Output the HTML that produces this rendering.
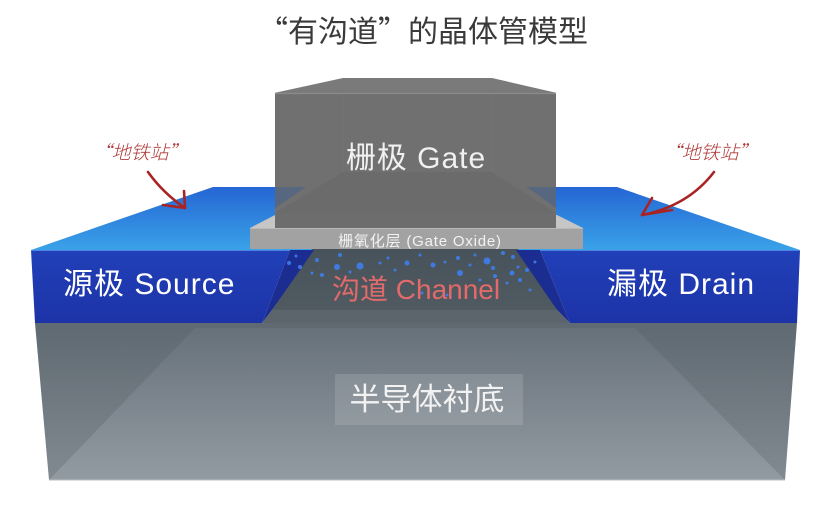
<!DOCTYPE html>
<html><head><meta charset="utf-8"><style>
html,body{margin:0;padding:0;background:#fff;}
svg{display:block;}
</style></head><body>
<svg width="824" height="512" viewBox="0 0 824 512" xmlns="http://www.w3.org/2000/svg">
<defs>
<linearGradient id="blueTop" x1="0" y1="187" x2="0" y2="250" gradientUnits="userSpaceOnUse">
<stop offset="0" stop-color="#2566d4"/><stop offset="1" stop-color="#3aa2e8"/>
</linearGradient>
<linearGradient id="subOuter" x1="0" y1="323" x2="0" y2="480" gradientUnits="userSpaceOnUse">
<stop offset="0" stop-color="#5f6971"/><stop offset="1" stop-color="#818a91"/>
</linearGradient>
<linearGradient id="subInner" x1="0" y1="328" x2="0" y2="480" gradientUnits="userSpaceOnUse">
<stop offset="0" stop-color="#67717a"/><stop offset="1" stop-color="#939ba2"/>
</linearGradient>
<linearGradient id="chan" x1="0" y1="249" x2="0" y2="310" gradientUnits="userSpaceOnUse">
<stop offset="0" stop-color="#48525a"/><stop offset="1" stop-color="#505a61"/>
</linearGradient>
<linearGradient id="srcFront" x1="0" y1="250" x2="0" y2="323" gradientUnits="userSpaceOnUse">
<stop offset="0" stop-color="#2140b8"/><stop offset="1" stop-color="#1d33a8"/>
</linearGradient>
</defs>

<!-- Title -->
<text x="423" y="42" text-anchor="middle" font-family="'Noto Sans CJK SC', sans-serif" font-size="30" fill="#3a3a3a">“有沟道”的晶体管模型</text>

<!-- blue top surface -->
<polygon points="31,250 213,187 617,187 800,250" fill="url(#blueTop)"/>

<!-- substrate -->
<polygon points="35,323 797,323 785,480 49,480" fill="url(#subOuter)"/>
<polygon points="195,328 635,328 785,480 49,480" fill="url(#subInner)"/>
<line x1="49" y1="480" x2="785" y2="480" stroke="#b9bfc4" stroke-width="1"/>

<!-- channel region -->
<polygon points="262,323 272,310 557,310 570,323" fill="#5c656c"/>
<polygon points="312,249 518,249 557,310 272,310" fill="url(#chan)"/>

<!-- source / drain fronts -->
<polygon points="31,250 290,250 262,323 35,323" fill="url(#srcFront)"/>
<polygon points="290,250 314,250 272,310 262,323" fill="#1b2d90"/>
<polygon points="540,250 800,250 797,323 570,323" fill="url(#srcFront)"/>
<polygon points="516,250 540,250 570,323 557,310" fill="#1b2d90"/>
<line x1="31" y1="250.5" x2="290" y2="250.5" stroke="#4d82e2" stroke-width="1"/>
<line x1="540" y1="250.5" x2="800" y2="250.5" stroke="#4d82e2" stroke-width="1"/>

<!-- electrons -->
<g fill="#3d7fee" opacity="0.9">
<circle cx="289" cy="263" r="2"/><circle cx="300" cy="267" r="2"/><circle cx="317" cy="260" r="2"/>
<circle cx="337" cy="267" r="3"/><circle cx="340" cy="255" r="2"/><circle cx="360" cy="266" r="3.5"/>
<circle cx="380" cy="263" r="1.5"/><circle cx="388" cy="258" r="1.5"/><circle cx="407" cy="263" r="2.5"/>
<circle cx="433" cy="265" r="2.5"/><circle cx="460" cy="273" r="3"/><circle cx="458" cy="258" r="2"/>
<circle cx="470" cy="265" r="1.5"/><circle cx="487" cy="261" r="3.5"/><circle cx="493" cy="268" r="2"/>
<circle cx="503" cy="253" r="2"/><circle cx="513" cy="257" r="2"/><circle cx="512" cy="273" r="2.5"/>
<circle cx="520" cy="280" r="2"/><circle cx="527" cy="270" r="2"/><circle cx="530" cy="290" r="1.5"/>
<circle cx="322" cy="275" r="2"/><circle cx="312" cy="273" r="1.5"/><circle cx="422" cy="293" r="1.5"/>
<circle cx="447" cy="295" r="1.5"/><circle cx="480" cy="280" r="1.5"/><circle cx="507" cy="283" r="1.5"/>
<circle cx="495" cy="276" r="2"/><circle cx="518" cy="267" r="1.5"/><circle cx="535" cy="262" r="1.5"/>
<circle cx="350" cy="272" r="1.5"/><circle cx="395" cy="270" r="1.5"/><circle cx="420" cy="255" r="1.5"/>
<circle cx="445" cy="262" r="1.5"/><circle cx="475" cy="255" r="1.5"/><circle cx="296" cy="256" r="1.5"/>
</g>

<!-- oxide -->
<polygon points="250,228 275,215 557,215 583,228" fill="#c6c6c6"/>
<rect x="250" y="228" width="333" height="21" fill="#a2a2a2"/>
<line x1="250" y1="228.5" x2="583" y2="228.5" stroke="#b8b8b8" stroke-width="1"/>

<!-- gate -->
<polygon points="274,93 343,78 492,78 557,93" fill="#7a7a7a"/>
<rect x="275" y="93" width="281" height="135" fill="#707070"/>
<line x1="275" y1="93.5" x2="556" y2="93.5" stroke="#8a8a8a" stroke-width="1.2"/>
<line x1="343" y1="94" x2="343" y2="172" stroke="#747474" stroke-width="1"/>
<line x1="492" y1="94" x2="492" y2="172" stroke="#747474" stroke-width="1"/>
<polygon points="343,172 492,172 556,213 275,213" fill="#6b6b6b"/>
<polygon points="275,187 306,187 275,208" fill="#56677f"/>
<polygon points="527,187 556,187 556,208" fill="#56677f"/>
<rect x="275" y="213" width="281" height="15" fill="#6d6d6d"/>

<!-- labels -->
<text x="416" y="168" text-anchor="middle" font-family="'Liberation Sans','Noto Sans CJK SC',sans-serif" font-size="30" letter-spacing="1" fill="#f0f0f0">栅极 Gate</text>
<text x="420" y="246" text-anchor="middle" font-family="'Liberation Sans','Noto Sans CJK SC',sans-serif" font-size="15" letter-spacing="0.8" fill="#f2f2f2">栅氧化层 (Gate Oxide)</text>
<text x="63" y="294" font-family="'Liberation Sans','Noto Sans CJK SC',sans-serif" font-size="30" letter-spacing="1" fill="#ffffff">源极 Source</text>
<text x="607" y="294" font-family="'Liberation Sans','Noto Sans CJK SC',sans-serif" font-size="30" letter-spacing="1" fill="#ffffff">漏极 Drain</text>
<text x="332" y="299" font-family="'Liberation Sans','Noto Sans CJK SC',sans-serif" font-size="28" fill="#e26a6a">沟道 Channel</text>

<rect x="335" y="374" width="188" height="51" fill="#ffffff" opacity="0.13"/>
<text x="427" y="410" text-anchor="middle" font-family="'Noto Sans CJK SC',sans-serif" font-size="31" fill="#f2f2f2">半导体衬底</text>

<!-- annotations -->
<text x="140" y="159" text-anchor="middle" font-family="'Noto Sans CJK SC',sans-serif" font-size="19" font-weight="300" fill="#b03838" font-style="italic">“地铁站”</text>
<text x="710" y="159" text-anchor="middle" font-family="'Noto Sans CJK SC',sans-serif" font-size="19" font-weight="300" fill="#b03838" font-style="italic">“地铁站”</text>
<g fill="none" stroke="#a82424" stroke-width="2.6" stroke-linecap="round" stroke-linejoin="round">
<path d="M148,172 Q163,193 185,208"/>
<path d="M163,205 L185,208 L184,191"/>
<path d="M714,172 Q688,206 642,215"/>
<path d="M672,210 L642,215 L652,198"/>
</g>
</svg>
</body></html>
